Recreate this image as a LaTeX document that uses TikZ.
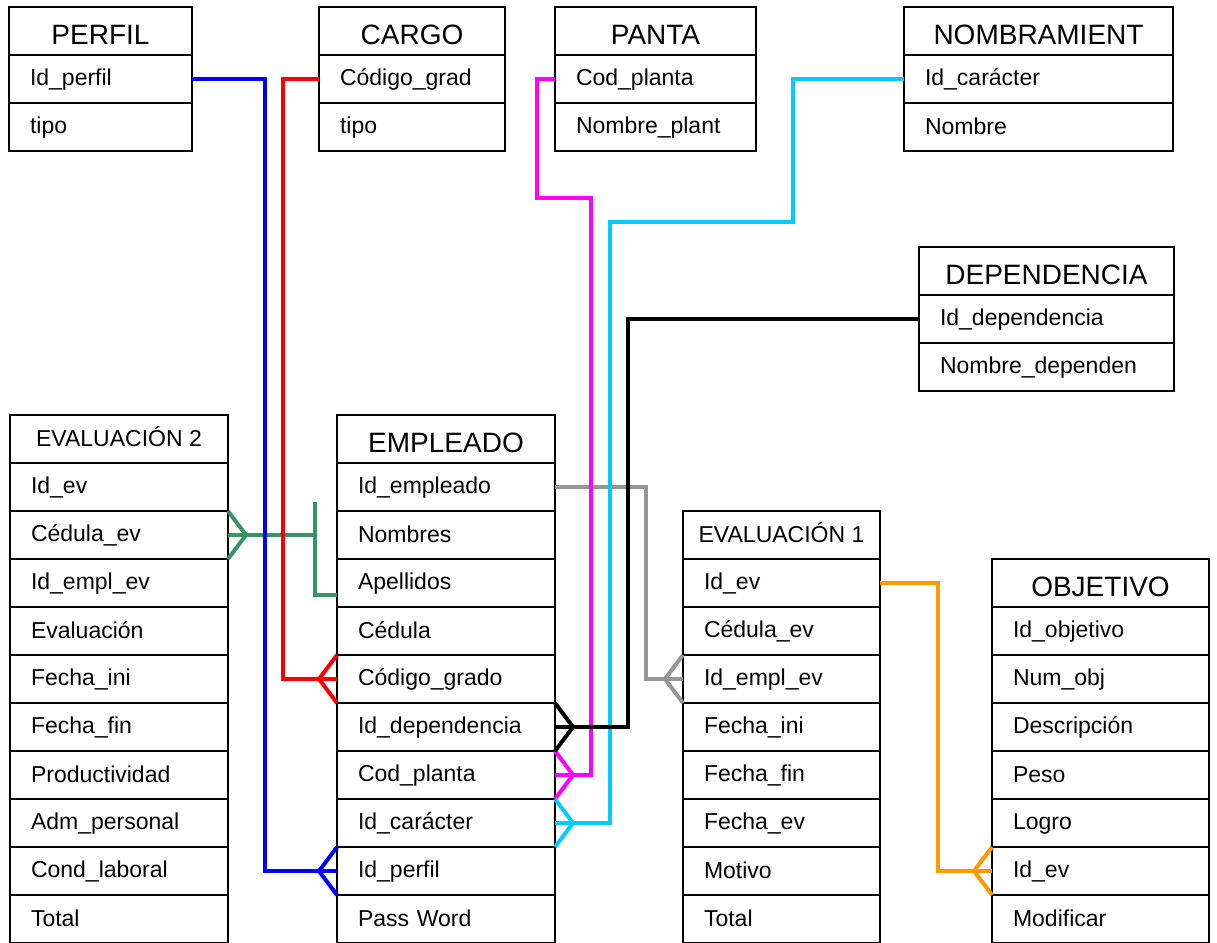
\documentclass[tikz,border=0pt]{standalone}
\usepackage{fontspec}
\setmainfont{Liberation Sans}

\definecolor{azul}{RGB}{0,0,255}
\definecolor{rojo}{RGB}{255,0,0}
\definecolor{magenta2}{RGB}{255,0,255}
\definecolor{celeste}{RGB}{0,204,255}
\definecolor{gris}{RGB}{150,150,150}
\definecolor{naranja}{RGB}{255,153,0}
\definecolor{verde}{RGB}{56,148,100}

\newcommand{\fcampo}{\fontsize{23}{26}\selectfont}
\newcommand{\titgrande}{\fontsize{28}{32}\selectfont\rule[-2pt]{0pt}{31pt}}
\newcommand{\titchico}{\fcampo\rule[-5pt]{0pt}{20pt}}

% tabla: nombre, x, y, ancho, titulo (fuente), titulo, campos
\newcommand{\tabla}[7]{%
  \node[titulo, minimum width=#4pt] (#1-0) at (#2,#3) {#5#6};
  \pgfmathsetmacro{\anchocampo}{#4-42}
  \foreach \campo [count=\i] in {#7}
    \node[campo, text width=\anchocampo pt] (#1-\i) at (#2,{#3+48*\i}) {\rule[-4pt]{0pt}{22pt}\campo};
}
% pata de gallo
\newcommand{\pataizq}[2]{\draw[conn, #1] (#2.north west) -- ([xshift=-18pt]#2.west) -- (#2.south west);}
\newcommand{\patader}[2]{\draw[conn, #1] (#2.north east) -- ([xshift=18pt]#2.east) -- (#2.south east);}

\begin{document}
\begin{tikzpicture}[
    x=1pt, y=-1pt,
    titulo/.style={draw=black, line width=1.6pt, anchor=north west, minimum height=48pt, inner sep=0pt, outer sep=0pt},
    campo/.style={draw=black, line width=1.6pt, anchor=north west, minimum height=48pt, inner xsep=21pt, inner ysep=0pt, outer sep=0pt, align=left, font=\fcampo},
    conn/.style={line width=4pt}
]
\path[use as bounding box, fill=white] (0,0) rectangle (1217,942);

% Tablas
\tabla{perfil}{9}{7}{183}{\titgrande}{PERFIL}{Id\_perfil, tipo}
\tabla{cargo}{319}{7}{186}{\titgrande}{CARGO}{Código\_grad, tipo}
\tabla{panta}{555}{7}{201}{\titgrande}{PANTA}{Cod\_planta, Nombre\_plant}
\tabla{nomb}{904}{7}{269}{\titgrande}{NOMBRAMIENT}{Id\_carácter, Nombre}
\tabla{dep}{919}{247}{255}{\titgrande}{DEPENDENCIA}{Id\_dependencia, Nombre\_dependen}
\tabla{ev2}{10}{415}{218}{\titchico}{EVALUACIÓN 2}{Id\_ev, Cédula\_ev, Id\_empl\_ev, Evaluación, Fecha\_ini, Fecha\_fin, Productividad, Adm\_personal, Cond\_laboral, Total}
\tabla{emp}{337}{415}{218}{\titgrande}{EMPLEADO}{Id\_empleado, Nombres, Apellidos, Cédula, Código\_grado, Id\_dependencia, Cod\_planta, Id\_carácter, Id\_perfil, Pass Word}
\tabla{ev1}{683}{511}{197}{\titchico}{EVALUACIÓN 1}{Id\_ev, Cédula\_ev, Id\_empl\_ev, Fecha\_ini, Fecha\_fin, Fecha\_ev, Motivo, Total}
\tabla{obj}{992}{559}{217}{\titgrande}{OBJETIVO}{Id\_objetivo, Num\_obj, Descripción, Peso, Logro, Id\_ev, Modificar}

% Relaciones
\draw[conn, verde] (ev2-2.east) -- ++(87,0);
\draw[conn, verde] ([yshift=-12pt]emp-3.west) -| ([xshift=87pt, yshift=33pt]ev2-2.east);
\patader{verde}{ev2-2}
\draw[conn, gris] (emp-1.east) -- ++(91,0) |- (ev1-3.west);
\pataizq{gris}{ev1-3}
\draw[conn, azul] (perfil-1.east) -- ++(73,0) |- (emp-9.west);
\pataizq{azul}{emp-9}
\draw[conn, rojo] (cargo-1.west) -- ++(-36,0) |- (emp-5.west);
\pataizq{rojo}{emp-5}
\draw[conn, magenta2] (panta-1.west) -- ++(-18,0) -- ++(0,119) -- ++(54,0) |- (emp-7.east);
\patader{magenta2}{emp-7}
\draw[conn, celeste] (nomb-1.west) -- ++(-111,0) -- ++(0,143) -- ++(-183,0) |- (emp-8.east);
\patader{celeste}{emp-8}
\draw[conn, black] (dep-1.west) -- ++(-291,0) |- (emp-6.east);
\patader{black}{emp-6}
\draw[conn, naranja] (ev1-1.east) -- ++(58,0) |- (obj-6.west);
\pataizq{naranja}{obj-6}

\end{tikzpicture}
\end{document}
